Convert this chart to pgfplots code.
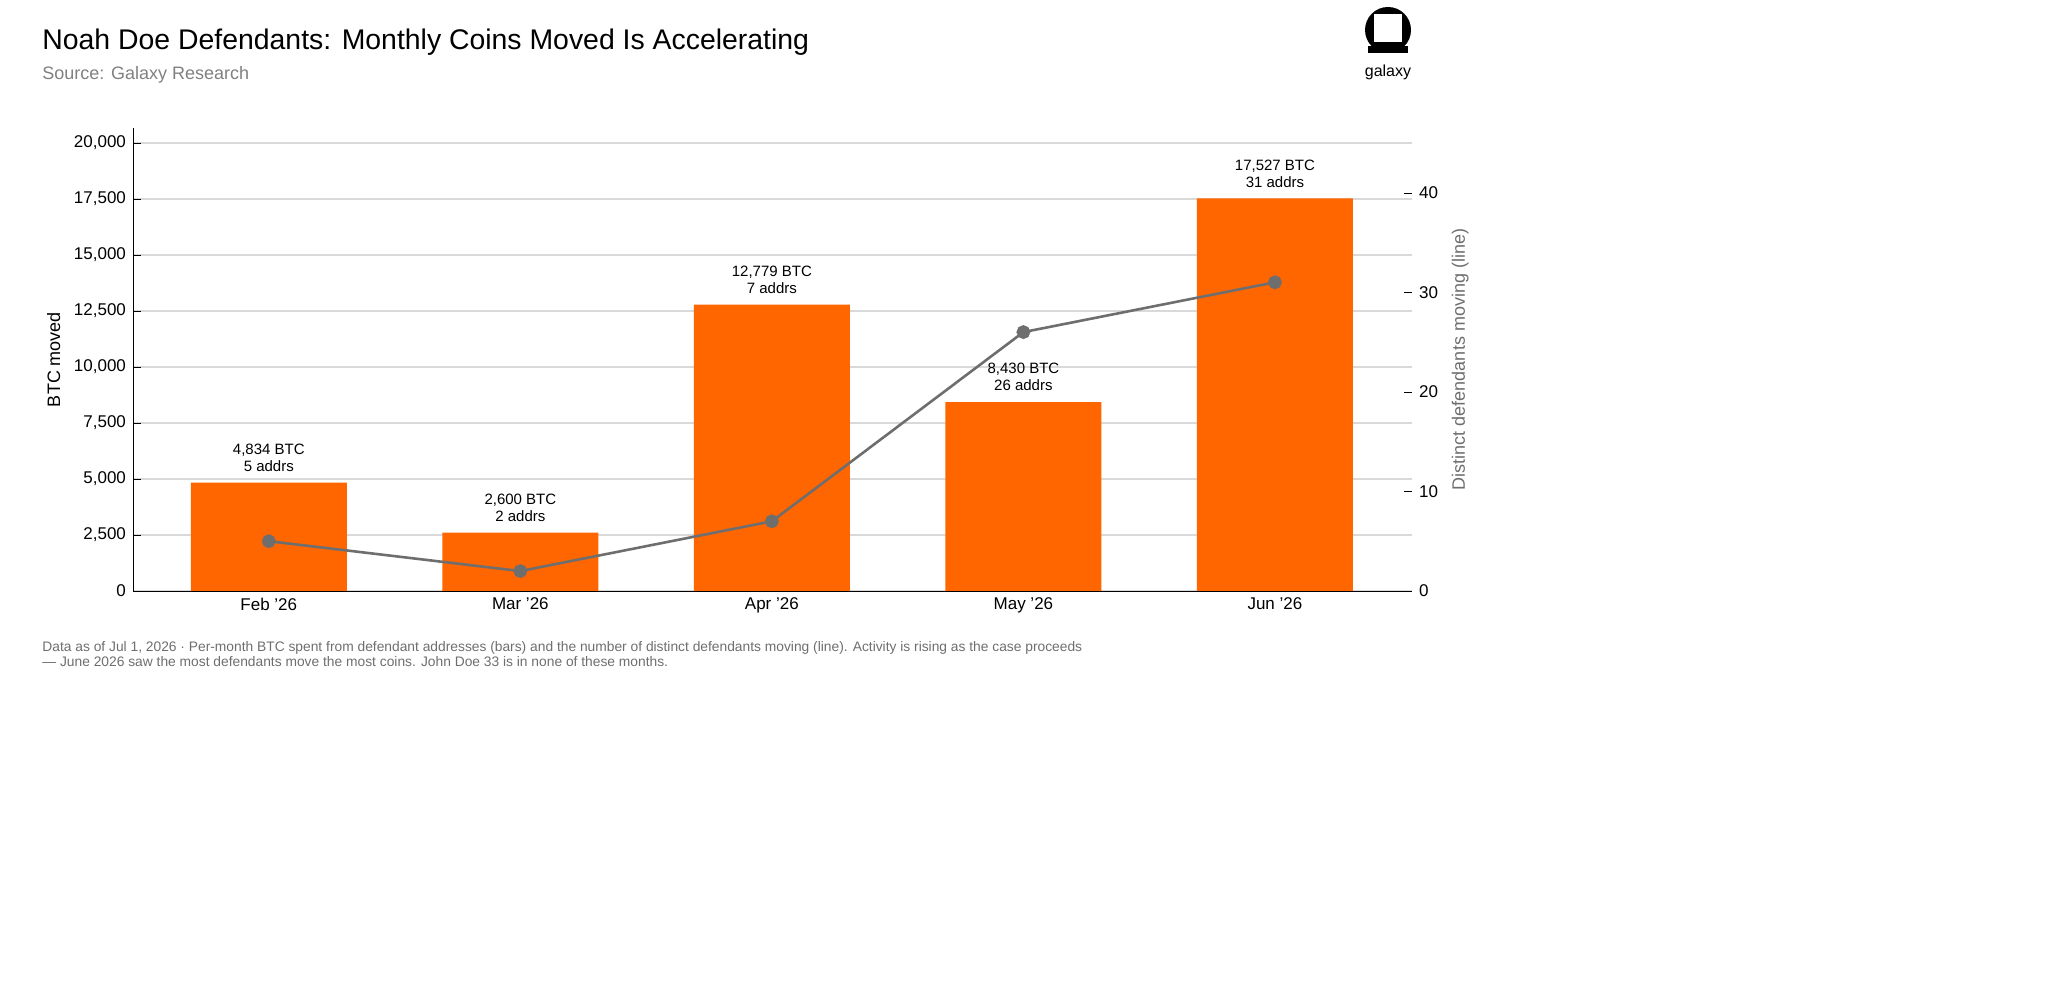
\documentclass[border=0pt]{standalone}
\usepackage{pgfplots}
\pgfplotsset{compat=1.18}
\usepackage{fontspec}
\setmainfont{Liberation Sans}
\definecolor{bar}{HTML}{FF6600}
\definecolor{ln}{HTML}{6E6E6E}
\begin{document}
\begin{tikzpicture}
\begin{scope}[x=0.5pt,y=0.5pt]
\path (0,0) rectangle (2048,983);
\node[anchor=base west,font=\fontsize{14.2}{17}\selectfont,inner sep=0pt] at (42,933) {Noah Doe Defendants: Monthly Coins Moved Is Accelerating};
\node[anchor=base west,font=\fontsize{9}{11}\selectfont,text=gray,inner sep=0pt] at (42,903) {Source: Galaxy Research};
\fill[black] (1388,953) circle (23);
\fill[white] (1374,941) rectangle (1402,969);
\fill[black] (1368,930) rectangle (1408,937);
\node[anchor=base,font=\fontsize{8}{9}\selectfont,inner sep=0pt] at (1388,906) {galaxy};
\node[anchor=base west,font=\fontsize{6.9}{8}\selectfont,text=ln,inner sep=0pt] at (42,331) {Data as of Jul 1, 2026 · Per-month BTC spent from defendant addresses (bars) and the number of distinct defendants moving (line). Activity is rising as the case proceeds};
\node[anchor=base west,font=\fontsize{6.9}{8}\selectfont,text=ln,inner sep=0pt] at (42,316) {— June 2026 saw the most defendants move the most coins. John Doe 33 is in none of these months.};
\end{scope}
\begin{axis}[at={(66.5pt,196pt)},anchor=south west,scale only axis,width=639.5pt,height=231.5pt,
 xmin=-0.54,xmax=4.545,ymin=0,ymax=20670,
 xtick={0,1,2,3,4},xticklabels={Feb '26,Mar '26,Apr '26,May '26,Jun '26},
 ytick={0,2500,...,20000},
 scaled y ticks=false,
 yticklabel style={/pgf/number format/.cd,fixed,1000 sep={,}},
 /pgf/number format/assume math mode=true,
 ymajorgrids, grid style={gray!30,line width=0.6pt},
 axis x line*=bottom, axis y line*=left,
 tick style={black},
 major tick length=4pt,
 tick label style={font=\fontsize{8.5}{10}\selectfont},
 ylabel={BTC moved},ylabel style={font=\fontsize{9}{10}\selectfont},
 xtick style={draw=none},
 clip=false]
\addplot[ybar,bar width=0.62,fill=bar,draw=none,
 nodes near coords={\pgfplotspointmeta},point meta=explicit symbolic,
 nodes near coords style={font=\fontsize{7.5}{8.5}\selectfont,align=center,anchor=south,yshift=2pt,text=black}]
 coordinates {(0,4834)[{4,834 BTC\\5 addrs}] (1,2600)[{2,600 BTC\\2 addrs}] (2,12779)[{12,779 BTC\\7 addrs}] (3,8430)[{8,430 BTC\\26 addrs}] (4,17527)[{17,527 BTC\\31 addrs}]};
\end{axis}
\begin{axis}[at={(66.5pt,196pt)},anchor=south west,scale only axis,width=639.5pt,height=231.5pt,
 xmin=-0.54,xmax=4.545,ymin=0,ymax=46.5,
 axis x line=none, axis y line*=right, y axis line style={draw=none},
 ytick={0,10,20,30,40}, tick style={black}, major tick length=4pt,
 yticklabel style={font=\fontsize{8.5}{10}\selectfont},
 /pgf/number format/assume math mode=true,
 ylabel={Distinct defendants moving (line)},ylabel style={font=\fontsize{9}{10}\selectfont,text=ln}]
\addplot[ln,line width=1.3pt,mark=*,mark size=2.8pt] coordinates {(0,5) (1,2) (2,7) (3,26) (4,31)};
\end{axis}
\end{tikzpicture}
\end{document}
